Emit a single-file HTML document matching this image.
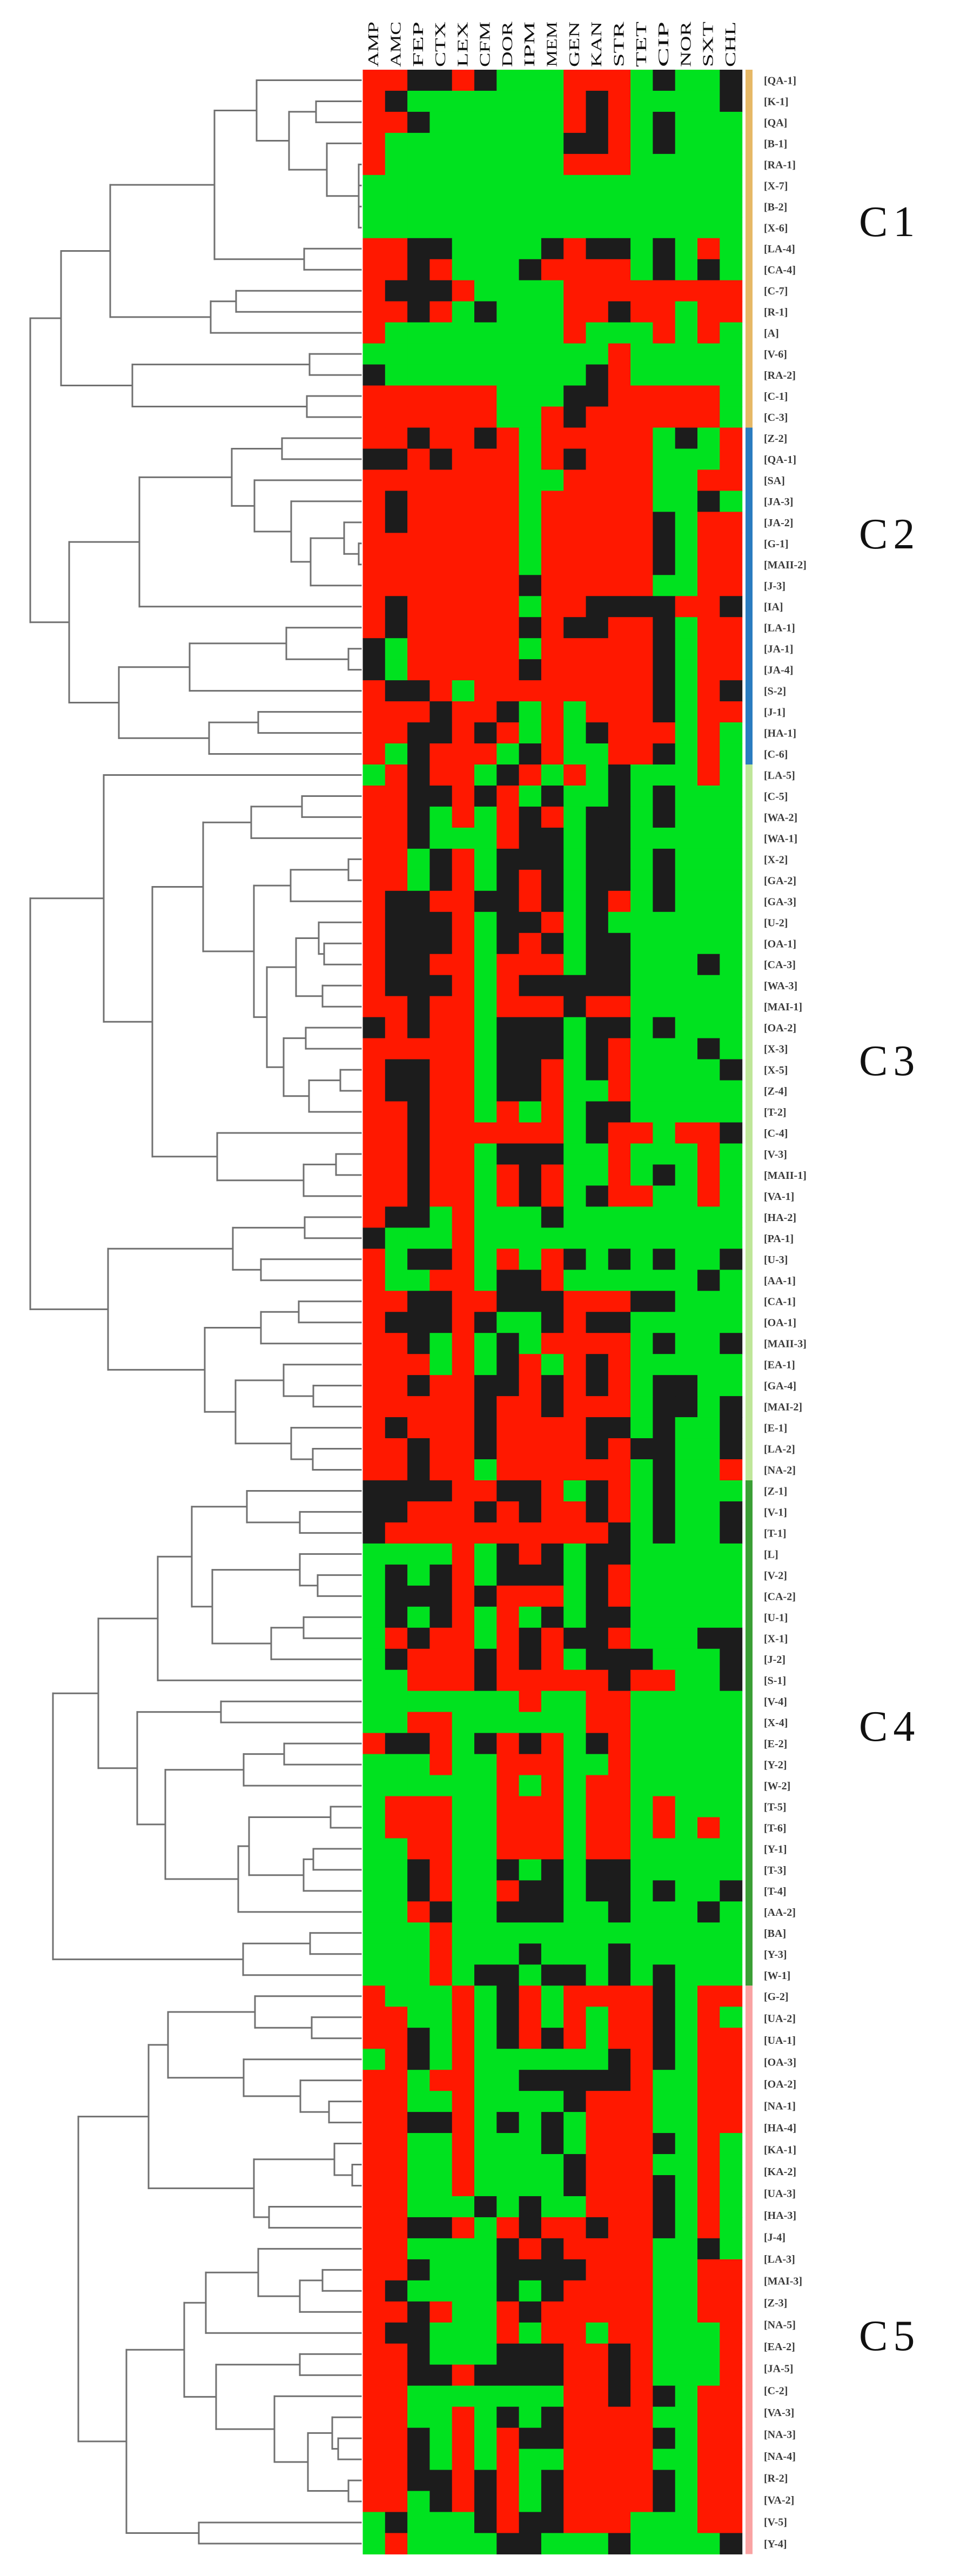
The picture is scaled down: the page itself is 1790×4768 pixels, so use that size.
<!DOCTYPE html>
<html><head><meta charset="utf-8">
<style>
html,body{margin:0;padding:0;background:#fff;}
svg{display:block;}
</style></head>
<body>
<svg id="chart" width="1790" height="4768" viewBox="0 0 1790 4768" xmlns="http://www.w3.org/2000/svg">
<g id="dendro"></g>
<g id="cells"></g>
<g id="headers"></g>
<g id="bars"></g>
<g id="labels"></g>
<g id="clabels"></g>
</svg>
<script>
const columns = ["AMP","AMC","FEP","CTX","LEX","CFM","DOR","IPM","MEM","GEN","KAN","STR","TET","CIP","NOR","SXT","CHL"];
const rowValues = [
"RRKKRKGGGRRRGKGGK","RKGGGGGGGRKRGGGGK","RRKGGGGGGRKRGKGGG","RGGGGGGGGKKRGKGGG","RGGGGGGGGRRRGGGGG",
"GGGGGGGGGGGGGGGGG","GGGGGGGGGGGGGGGGG","GGGGGGGGGGGGGGGGG","RRKKGGGGKRKKGKGRG","RRKRGGGKRRRRGKGKG",
"RKKKRGGGGRRRRRRRR","RRKRGKGGGRRKRRGRR","RGGGGGGGGRGGGRGRG","GGGGGGGGGGGRGGGGG","KGGGGGGGGGKRGGGGG",
"RRRRRRGGGKKRRRRRG","RRRRRRGGRKRRRRRRG",
"RRKRRKRGRRRRRGKGR","KKRKRRRGRKRRRGGGR","RRRRRRRGGRRRRGGRR","RKRRRRRGRRRRRGGKG","RKRRRRRGRRRRRKGRR",
"RRRRRRRGRRRRRKGRR","RRRRRRRGRRRRRKGRR","RRRRRRRKRRRRRGGRR","RKRRRRRGRRKKKKRRK","RKRRRRRKRKKRRKGRR",
"KGRRRRRGRRRRRKGRR","KGRRRRRKRRRRRKGRR","RKKRGRRRRRRRRKGRK","RRRKRRKGRGRRRKGRR","RRKKRKRGRGKRRRGRG",
"RGKRRRGKRGGRRKGRG",
"GRKRRGKRGRGKGGGRG","RRKKRKRGKGGKGKGGG","RRKGRGRKRGKKGKGGG","RRKGGGRKKGKKGGGGG","RRGKRGKKKGKKGKGGG",
"RRGKRGKRKGKKGKGGG","RKKRRKKRKGKRGKGGG","RKKKRGKKRGKGGGGGG","RKKKRGKRKGKKGGGGG","RKKRRGRRRGKKGGGKG",
"RKKKRGRKKKKKGGGGG","RRKRRGRRRKRRGGGGG","KRKRRGKKKGKKGKGGG","RRRRRGKKKGKRGGGKG","RKKRRGKKRGKRGGGGK",
"RKKRRGKKRGGRGGGGG","RRKRRGRGRGKKGGGGG","RRKRRRRRRGKRRGRRK","RRKRRGKKKGGRGGGRG","RRKRRGRKRGGRGKGRG",
"RRKRRGRKRGKRRGGRG","RKKGRGGGKGGGGGGGG","KGGGRGGGGGGGGGGGG","RGKKRGRGRKGKGKGGK","RGGRRGKKRGGGGGGKG",
"RRKKRRKKKRRRKKGGG","RKKKRKGGKRKKGGGGG","RRKGRGKGRRRRGKGGK","RRRGRGKRGRKRGGGGG","RRKRRKKRKRKRGKKGG",
"RRRRRKRRKRRRGKKGK","RKRRRKRRRRKKGKGGK","RRKRRKRRRRKRKKGGK","RRKRRGRRRRRRGKGGR",
"KKKKRRKKRGKRGKGGG","KKRRRKRKRRKRGKGGK","KRRRRRRRRRRKGKGGK","GGGGRGKRKGKKGGGGG","GKGKRGKKKGKRGGGGG",
"GKKKRKRRRGKRGGGGG","GKGKRGRGKGKKGGGGG","GRKRRGRKRKKRGGGKK","GKRRRKRKRGKKKGGGK","GGRRRKRRRRRKRRGGK",
"GGGGGGGRGGRRGGGGG","GGRRGGGGGGRRGGGGG","RKKRGKRKRGKRGGGGG","GGGRGGRRRGGRGGGGG","GGGGGGRGRGRRGGGGG",
"GRRRGGRRRGRRGRGGG","GRRRGGRRRGRRGRGRG","GGRRGGRRRGRRGGGGG","GGKRGGKGKGKKGGGGG","GGKRGGRKKGKKGKGGK",
"GGRKGGKKKGGKGGGKG","GGGRGGGGGGGGGGGGG","GGGRGGGKGGGKGGGGG","GGGRGKKGKKGKGKGGG",
"RGGGRGKRGRRRRKGRR","RRGGRGKRGRGRRKGRG","RRKGRGKRKRGRRKGRR","GRKGRGGGGGGKRKGRR","RRGRRGGKKKKKRGGRR",
"RRGGRGGGGKRRRGGRR","RRKKRGKGKGRRRGGRR","RRGGRGGGKGRRRKGRG","RRGGRGGGGKRRRGGRG","RRGGRGGGGKRRRKGRG",
"RRGGGKGKGGRRRKGRG","RRKKRGRKRRKRRKGRG","RRGGGGKRKRRRRGGKG","RRKGGGKKKKRRRGGRR","RKGGGGKGKRRRRGGRR",
"RRKRGGRKRRRRRGGRR","RKKGGGRGRRGRRGGGR","RRKGGGKKKRRKRGGGR","RRKKRKKKKRRKRGGGR","RRGGGGGGGRRKRKGRR",
"RRGGRGKGKRRRRGGRR","RRKGRGRKKRRRRKGRR","RRKGRGRGGRRRRGGRR","RRKKRKRGKRRRRKGRR","RRGKRKRGKRRRRKGRR",
"GKGGGKRKKRRRGGGRR","GRGGGGKKGGGKGGGGK"
];
const labelsC1 = ["QA-1","K-1","QA","B-1","RA-1","X-7","B-2","X-6","LA-4","CA-4","C-7","R-1","A","V-6","RA-2","C-1","C-3"];
const labelsC2 = ["Z-2","QA-1","SA","JA-3","JA-2","G-1","MAII-2","J-3","IA","LA-1","JA-1","JA-4","S-2","J-1","HA-1","C-6"];
const labelsC3 = ["LA-5","C-5","WA-2","WA-1","X-2","GA-2","GA-3","U-2","OA-1","CA-3","WA-3","MAI-1","OA-2","X-3","X-5","Z-4","T-2","C-4","V-3","MAII-1","VA-1","HA-2","PA-1","U-3","AA-1","CA-1","OA-1","MAII-3","EA-1","GA-4","MAI-2","E-1","LA-2","NA-2"];
const labelsC4 = ["Z-1","V-1","T-1","L","V-2","CA-2","U-1","X-1","J-2","S-1","V-4","X-4","E-2","Y-2","W-2","T-5","T-6","Y-1","T-3","T-4","AA-2","BA","Y-3","W-1"];
const labelsC5 = ["G-2","UA-2","UA-1","OA-3","OA-2","NA-1","HA-4","KA-1","KA-2","UA-3","HA-3","J-4","LA-3","MAI-3","Z-3","NA-5","EA-2","JA-5","C-2","VA-3","NA-3","NA-4","R-2","VA-2","V-5","Y-4"];
const clusterNames = ["C1","C2","C3","C4","C5"];
const clusterStart = [0,17,33,67,91];
const clusterEnd = [17,33,67,91,118];
const clusterColors = ["#e6b866","#2a7cc0","#bfe69a","#3a9e35","#f9a3a3"];
// dendrogram merge trees: [mergeDistanceX, left, right]; leaves are row indices
const treeC1C2 = [56,
  [113,
    [204,
      [397,[475,0,[535,[585,1,2],[605,3,[664,[664,4,5],[664,6,7]]]]],[563,8,9]],
      [390,[437,10,11],12]],
    [245,[573,13,14],[568,15,16]]],
  [128,
    [258,[429,[522,17,18],[471,19,[539,20,[575,[637,21,[664,22,23]],24]]]],25],
    [220,[351,[530,26,[645,27,28]],29],[387,[478,30,31],32]]]];
const treeC3 = [56,
  [192,33,
    [282,
      [376,[465,[559,34,35],36],
        [470,[538,[645,37,38],39],
          [494,[548,[590,40,[600,41,42]],[597,43,44]],
               [525,[566,45,46],[572,[630,47,48],49]]]]],
      [402,50,[562,[622,51,52],53]]]],
  [200,
    [431,[564,54,55],[483,56,57]],
    [379,[483,[553,58,59],60],
      [436,[525,61,[580,62,63]],[539,64,[579,65,66]]]]]];
const treeC4 = [98,
  [182,
    [292,[355,[457,67,[555,68,69]],[393,[555,70,[588,71,72]],[502,[562,73,74],75]]],76],
    [254,[409,77,78],
      [306,[451,[526,79,80],81],
        [441,[461,[612,82,83],[562,[580,84,85],86]],87]]]],
  [450,[574,88,89],90]];
const treeC5 = [145,
  [275,
    [311,[472,91,[577,92,93]],[451,94,[556,95,[609,96,97]]]],
    [470,[619,98,[652,99,100]],[498,101,102]]],
  [234,
    [341,
      [381,[478,103,[555,[597,104,105],106]],107],
      [400,[555,108,109],[508,110,[570,[615,111,[626,112,113]],[645,114,115]]]]],
    [368,116,117]]];

const NS = "http://www.w3.org/2000/svg";
const X0 = 671.5, COLW = 41.3, Y0 = 129, ROWH = 38.97, TIPX = 668;
const colorMap = {R:"#ff1800", G:"#00e21f", K:"#1c1c1c"};
function xCol(c){ return X0 + c*COLW; }
function yRow(r){ return Y0 + r*ROWH; }
function mk(tag, attrs, parent){
  const e = document.createElementNS(NS, tag);
  for (const k in attrs) e.setAttribute(k, attrs[k]);
  parent.appendChild(e);
  return e;
}

// heatmap cells
const cellsG = document.getElementById("cells");
rowValues.forEach((row, r) => {
  for (let c = 0; c < columns.length; c++) {
    const rect = mk("rect", {x: xCol(c).toFixed(2), y: yRow(r).toFixed(2), width: (COLW+0.6).toFixed(2), height: (ROWH+0.6).toFixed(2), fill: colorMap[row[c]]}, cellsG);
    
    
  }
});

// column headers
const headG = document.getElementById("headers");
columns.forEach((name, c) => {
  const cx = xCol(c) + COLW/2 + 8;
  const t = mk("text", {x: 0, y: 0, transform: "translate(" + cx.toFixed(1) + ",124) rotate(-90)", "font-family": "Liberation Serif, serif", "font-size": "27", fill: "#111", textLength: "84", lengthAdjust: "spacingAndGlyphs"}, headG);
  t.textContent = name;
  
  
});

// cluster bars + cluster labels
const barG = document.getElementById("bars");
const clG = document.getElementById("clabels");
const clusterLabelY = [437, 1015, 1990, 3222, 4350];
clusterNames.forEach((nm, i) => {
  const b = mk("rect", {x: 1380, y: yRow(clusterStart[i]).toFixed(1), width: 13, height: ((clusterEnd[i]-clusterStart[i])*ROWH).toFixed(1), fill: clusterColors[i]}, barG);
  
  
  const t = mk("text", {x: 1590, y: clusterLabelY[i], "font-family": "Liberation Serif, serif", "font-size": "80", fill: "#111", "letter-spacing": "10"}, clG);
  t.textContent = nm;
  
  
});

// row labels
const labG = document.getElementById("labels");
function addLabel(txt, yc){
  const t = mk("text", {x: 1414, y: (yc + 7).toFixed(1), "font-family": "Liberation Serif, serif", "font-size": "20", "font-weight": "bold", fill: "#3a3a3a"}, labG);
  t.textContent = "[" + txt + "]";
  
  
}
[labelsC1, labelsC2, labelsC3, labelsC4].forEach((arr, i) => {
  arr.forEach((l, j) => addLabel(l, yRow(clusterStart[i] + j) + ROWH/2));
});
{
  const yA = yRow(91) + ROWH/2, yB = yRow(117) + ROWH/2;
  labelsC5.forEach((l, j) => addLabel(l, yA + (yB - yA) * j / (labelsC5.length - 1)));
}

// dendrogram
const dG = document.getElementById("dendro");
function line(x1, y1, x2, y2){
  const l = mk("line", {x1: x1, y1: y1.toFixed(1), x2: x2, y2: y2.toFixed(1), stroke: "#707070", "stroke-width": "3", "stroke-linecap": "square"}, dG);
  
  
}
function draw(node){
  if (typeof node === "number") return {x: TIPX, y: yRow(node) + ROWH/2};
  const a = draw(node[1]), b = draw(node[2]);
  const x = node[0];
  line(x, a.y, a.x, a.y);
  line(x, b.y, b.x, b.y);
  line(x, a.y, x, b.y);
  return {x: x, y: (a.y + b.y) / 2};
}
[treeC1C2, treeC3, treeC4, treeC5].forEach(draw);
</script>
</body></html>
